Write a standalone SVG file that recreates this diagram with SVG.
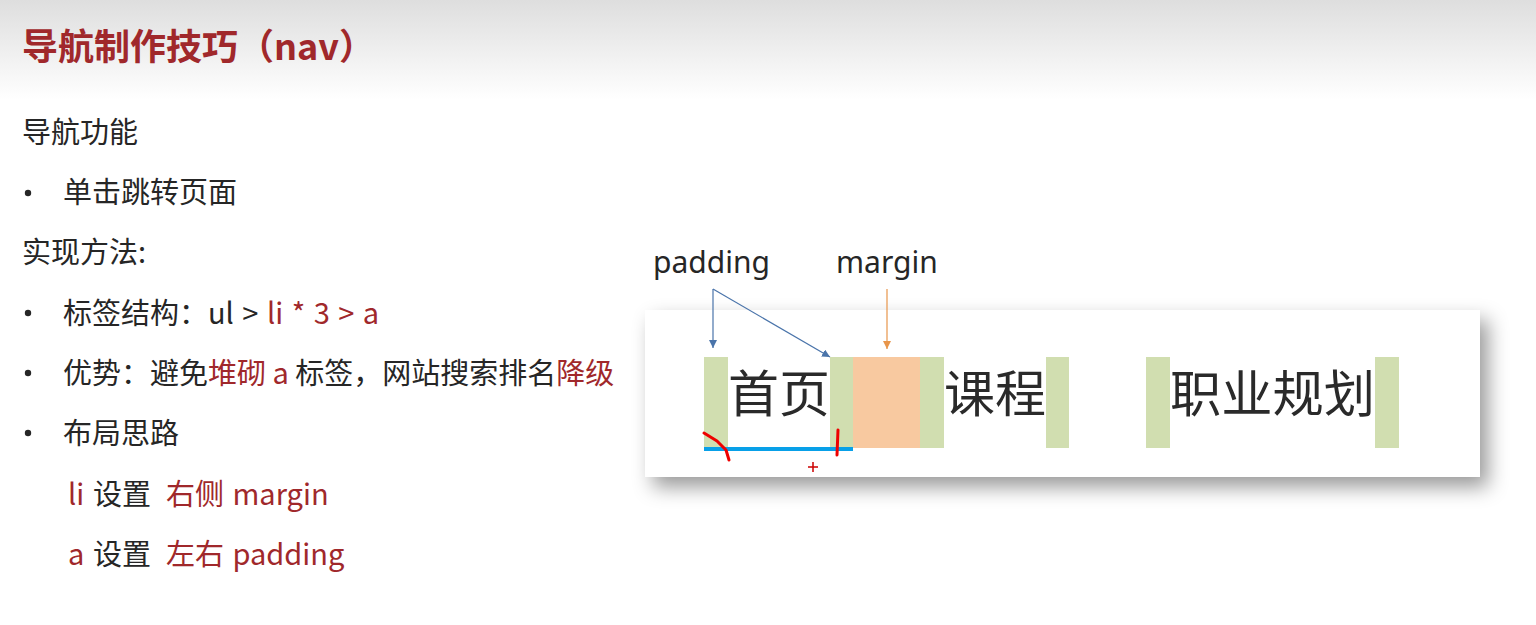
<svg xmlns="http://www.w3.org/2000/svg" width="1536" height="625" viewBox="0 0 1536 625">
<style>
.t{font-family:"Noto Sans CJK SC","Noto Sans",sans-serif;font-size:29px;fill:#262626}
.r{fill:#a0282b}
.ws{word-spacing:2px}
.big{font-family:"Noto Sans CJK SC",sans-serif;font-size:50px;fill:#2a2a2a}
.lbl{font-family:"Noto Sans","Noto Sans CJK SC",sans-serif;font-size:30px;fill:#262626}
.g{fill:#d1deb0}
</style>
<defs>
<linearGradient id="bg" x1="0" y1="0" x2="0" y2="1">
<stop offset="0" stop-color="#dedede"/>
<stop offset="1" stop-color="#ffffff"/>
</linearGradient>
<filter id="sh" x="-5%" y="-15%" width="115%" height="145%">
<feDropShadow dx="8" dy="10" stdDeviation="10" flood-color="#000" flood-opacity="0.4"/>
</filter>
<marker id="ab" viewBox="0 0 10 10" refX="10" refY="5" markerWidth="8" markerHeight="8" orient="auto" markerUnits="userSpaceOnUse">
<path d="M0,0 L10,5 L0,10 z" fill="#4a74aa"/>
</marker>
<marker id="ao" viewBox="0 0 10 10" refX="10" refY="5" markerWidth="8" markerHeight="8" orient="auto" markerUnits="userSpaceOnUse">
<path d="M0,0 L10,5 L0,10 z" fill="#e8954a"/>
</marker>
</defs>
<rect x="0" y="0" width="1536" height="625" fill="#fff"/>
<rect x="0" y="0" width="1536" height="100" fill="url(#bg)"/>
<text x="22" y="60" font-family="Noto Sans CJK SC,sans-serif" font-size="36" font-weight="bold" fill="#a0282b">导航制作技巧（nav）</text>

<g id="text-left">
<text class="t" x="22" y="143">导航功能</text>
<circle cx="28" cy="193" r="3.2" fill="#262626"/>
<text class="t" x="63" y="203">单击跳转页面</text>
<text class="t" x="22" y="263">实现方法:</text>
<circle cx="28" cy="313" r="3.2" fill="#262626"/>
<text class="t ws" x="63" y="324">标签结构：ul &gt; <tspan class="r">li * 3 &gt; a</tspan></text>
<circle cx="28" cy="373" r="3.2" fill="#262626"/>
<text class="t" x="63" y="384">优势：避免<tspan class="r">堆砌 a</tspan> 标签，网站搜索排名<tspan class="r">降级</tspan></text>
<circle cx="28" cy="433" r="3.2" fill="#262626"/>
<text class="t" x="63" y="444">布局思路</text>
<text class="t ws" x="68" y="505"><tspan class="r">li</tspan><tspan x="93">设置</tspan><tspan class="r" x="166">右侧 margin</tspan></text>
<text class="t ws" x="68" y="565"><tspan class="r">a</tspan><tspan x="93">设置</tspan><tspan class="r" x="166">左右 padding</tspan></text>
</g>

<g id="nav-panel">
<rect x="645" y="310" width="835" height="167" fill="#fff" filter="url(#sh)"/>
<rect class="g" x="704" y="357" width="24" height="91"/>
<rect class="g" x="830" y="357" width="23" height="91"/>
<rect x="853" y="357" width="67" height="91" fill="#f8c9a0"/>
<rect class="g" x="920" y="357" width="24" height="91"/>
<rect class="g" x="1046" y="357" width="23" height="91"/>
<rect class="g" x="1146" y="357" width="24" height="91"/>
<rect class="g" x="1375" y="357" width="24" height="91"/>
<text class="big" x="728" y="412" textLength="102" lengthAdjust="spacingAndGlyphs">首页</text>
<text class="big" x="944" y="412" textLength="102" lengthAdjust="spacingAndGlyphs">课程</text>
<text class="big" x="1170" y="412" textLength="205" lengthAdjust="spacingAndGlyphs">职业规划</text>
<rect x="704" y="447" width="149" height="4" fill="#08a0e8"/>
<path d="M704,433 L717,441 L726,450 L729,460" fill="none" stroke="#e00" stroke-width="3" stroke-linecap="round" stroke-linejoin="round"/>
<path d="M838,430 L837,455" fill="none" stroke="#e00" stroke-width="3" stroke-linecap="round"/>
<path d="M808,467 H818 M813,462 V472" stroke="#c00" stroke-width="1.5"/>
</g>

<g id="labels">
<text class="lbl" x="653" y="273">padding</text>
<text class="lbl" x="836" y="273">margin</text>
</g>

<g id="connectors">
<line x1="713" y1="289" x2="713" y2="348" stroke="#4a74aa" stroke-width="1.2" marker-end="url(#ab)"/>
<line x1="713" y1="289" x2="830" y2="357" stroke="#4a74aa" stroke-width="1.2" marker-end="url(#ab)"/>
<line x1="887" y1="289" x2="887" y2="349" stroke="#e8954a" stroke-width="1.2" marker-end="url(#ao)"/>
</g>
</svg>
